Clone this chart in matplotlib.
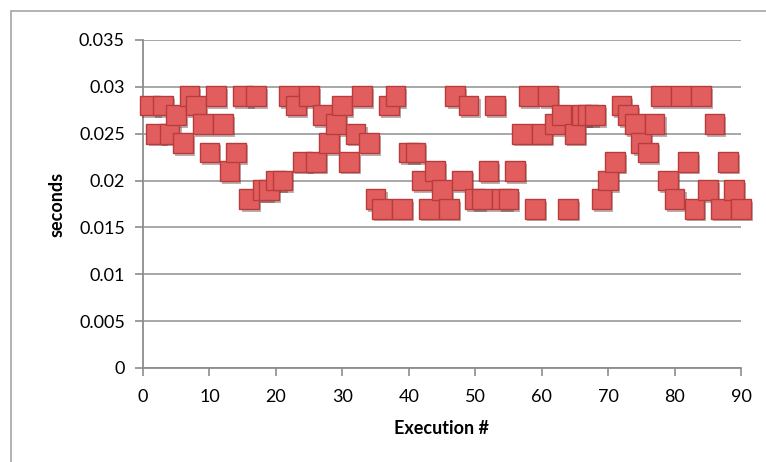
import numpy as np
import matplotlib.pyplot as plt
import matplotlib.patheffects as pe
from matplotlib.patches import Rectangle

plt.rcParams['font.family'] = ['Lato', 'DejaVu Sans']

# timing of each run
runs = list(range(1, 91))
seconds = [0.028, 0.025, 0.028, 0.025, 0.027, 0.024, 0.029, 0.028, 0.026, 0.023,
           0.029, 0.026, 0.021, 0.023, 0.029, 0.018, 0.029, 0.019, 0.019, 0.020,
           0.020, 0.029, 0.028, 0.022, 0.029, 0.022, 0.027, 0.024, 0.026, 0.028,
           0.022, 0.025, 0.029, 0.024, 0.018, 0.017, 0.028, 0.029, 0.017, 0.023,
           0.023, 0.020, 0.017, 0.021, 0.019, 0.017, 0.029, 0.020, 0.028, 0.018,
           0.018, 0.021, 0.028, 0.018, 0.018, 0.021, 0.025, 0.029, 0.017, 0.025,
           0.029, 0.026, 0.027, 0.017, 0.025, 0.027, 0.027, 0.027, 0.018, 0.020,
           0.022, 0.028, 0.027, 0.026, 0.024, 0.023, 0.026, 0.029, 0.020, 0.018,
           0.029, 0.022, 0.017, 0.029, 0.019, 0.026, 0.017, 0.022, 0.019, 0.017]

xticks = [0, 10, 20, 30, 40, 50, 60, 70, 80, 90]
yticks = [0, 0.005, 0.01, 0.015, 0.02, 0.025, 0.03, 0.035]
ylabels = ['0', '0.005', '0.01', '0.015', '0.02', '0.025', '0.03', '0.035']

W, H = 766, 462
fig = plt.figure(figsize=(W / 100, H / 100), dpi=100)

# chart frame
fig.patches.append(Rectangle((11 / W, -0.1), 1.2, 1.1 - 11 / H,
                             transform=fig.transFigure, fill=False,
                             edgecolor='#a6a6a6', linewidth=1.2))

ax = fig.add_axes([143 / W, (H - 368) / H, (741 - 143) / W, (368 - 40) / H])
ax.set_xlim(0, 90)
ax.set_ylim(0, 0.035)
ax.set_xticks(xticks)
ax.set_yticks(yticks)
ax.set_yticklabels(ylabels)

for s in ['top', 'right']:
    ax.spines[s].set_visible(False)
for s in ['left', 'bottom']:
    ax.spines[s].set_color('#8c8c8c')
    ax.spines[s].set_linewidth(1.3)

ax.grid(axis='y', color='#a0a0a0', linewidth=1.3)
ax.set_axisbelow(True)
ax.tick_params(axis='both', colors='#8c8c8c', length=6, width=1.2,
               labelcolor='black', labelsize=13)
ax.tick_params(axis='y', pad=7)
ax.tick_params(axis='x', pad=9)

ax.plot(runs, seconds, linestyle='none', marker='s', markersize=14.2,
        markerfacecolor='#e25e5e', markeredgecolor='#b83c3c',
        markeredgewidth=1.0, clip_on=False, zorder=3,
        path_effects=[pe.SimplePatchShadow(offset=(1.5, -2), alpha=0.35),
                      pe.Normal()])

ax.set_ylabel('seconds', fontsize=13, fontweight='bold', labelpad=10)
ax.set_xlabel('Execution #', fontsize=13, fontweight='bold', labelpad=11)

fig.savefig('out.png', dpi=100)
